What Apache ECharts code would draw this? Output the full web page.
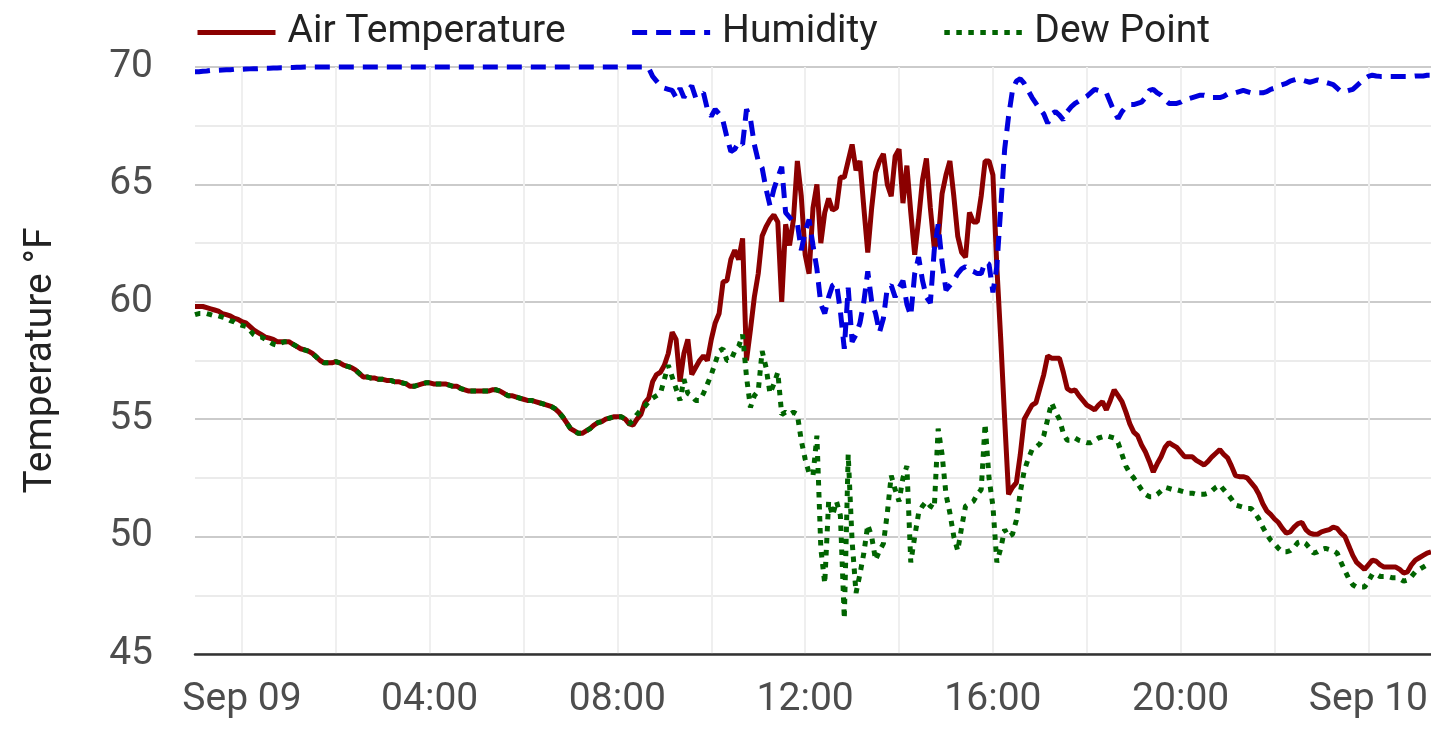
<!DOCTYPE html>
<html>
<head>
<meta charset="utf-8">
<title>Temperature</title>
<script src="https://cdn.jsdelivr.net/npm/echarts@6/dist/echarts.min.js"></script>
<style>
    html, body {margin: 0; padding: 0; background: #fff;}
    #chart {width: 1431px; height: 741px;}
</style>
</head>
<body>
<div id="chart"></div>
<script>
// readings every 5 minutes, Sep 08 23:00 -> Sep 10 01:20
const startTime = Date.UTC(2024, 8, 8, 23, 0);
const stepMinutes = 5;

const airTemperature = [
    59.8, 59.8, 59.8, 59.75, 59.7, 59.65, 59.6, 59.5, 59.45, 59.4, 59.3, 59.25,
    59.15, 59.1, 58.95, 58.8, 58.7, 58.6, 58.5, 58.45, 58.4, 58.3, 58.3, 58.3,
    58.3, 58.2, 58.1, 58.0, 57.95, 57.9, 57.8, 57.65, 57.5, 57.4, 57.4, 57.4,
    57.45, 57.4, 57.3, 57.25, 57.2, 57.1, 56.95, 56.8, 56.8, 56.75, 56.75, 56.7,
    56.7, 56.65, 56.65, 56.6, 56.6, 56.55, 56.5, 56.4, 56.4, 56.45, 56.5, 56.55,
    56.55, 56.5, 56.5, 56.5, 56.5, 56.45, 56.4, 56.4, 56.3, 56.25, 56.2, 56.2,
    56.2, 56.2, 56.2, 56.2, 56.25, 56.25, 56.2, 56.1, 56.0, 56.0, 55.95, 55.9,
    55.85, 55.8, 55.8, 55.75, 55.7, 55.65, 55.6, 55.55, 55.45, 55.3, 55.1, 54.85,
    54.6, 54.5, 54.4, 54.4, 54.5, 54.6, 54.75, 54.85, 54.9, 55.0, 55.05, 55.1,
    55.1, 55.1, 55.0, 54.8, 54.75, 55.0, 55.2, 55.7, 55.9, 56.6, 56.9, 57.0,
    57.3, 57.8, 58.7, 58.4, 56.6, 57.8, 58.4, 56.9, 57.2, 57.5, 57.7, 57.5,
    58.4, 59.1, 59.5, 60.85, 60.9, 61.8, 62.2, 61.8, 62.7, 57.5, 58.8, 60.2,
    61.2, 62.8, 63.2, 63.5, 63.7, 63.4, 60.0, 63.3, 62.4, 63.5, 66.0, 64.5,
    62.0, 61.2, 64.0, 65.0, 62.5, 63.8, 64.4, 63.9, 64.0, 65.3, 65.3, 66.0,
    66.7, 65.6, 66.0, 64.0, 62.1, 64.0, 65.5, 66.0, 66.3, 65.0, 64.5, 66.2,
    66.5, 64.2, 65.8, 63.8, 62.0, 63.5, 65.2, 66.1, 64.0, 62.3, 62.6, 64.6,
    65.4, 66.0, 64.5, 62.8, 62.1, 61.9, 63.8, 63.4, 63.4, 64.5, 66.0, 66.0,
    65.4, 61.5, 58.4, 55.0, 51.8, 52.1, 52.3, 53.5, 55.0, 55.3, 55.6, 55.7,
    56.3, 56.9, 57.7, 57.6, 57.6, 57.6, 57.0, 56.3, 56.2, 56.25, 56.0, 55.8,
    55.6, 55.5, 55.4, 55.6, 55.75, 55.4, 55.8, 56.25, 56.0, 55.75, 55.3, 54.8,
    54.45, 54.3, 53.9, 53.6, 53.2, 52.75, 53.1, 53.4, 53.8, 54.0, 53.9, 53.8,
    53.6, 53.4, 53.4, 53.4, 53.25, 53.15, 53.05, 53.2, 53.4, 53.55, 53.7, 53.5,
    53.35, 53.0, 52.6, 52.55, 52.55, 52.5, 52.3, 52.1, 51.8, 51.4, 51.1, 50.95,
    50.75, 50.6, 50.35, 50.15, 50.2, 50.4, 50.55, 50.6, 50.3, 50.15, 50.1, 50.1,
    50.2, 50.25, 50.3, 50.4, 50.35, 50.15, 50.0, 49.6, 49.2, 48.9, 48.75, 48.6,
    48.8, 49.0, 48.95, 48.8, 48.7, 48.7, 48.7, 48.7, 48.6, 48.45, 48.5, 48.8,
    49.0, 49.1, 49.2, 49.3, 49.35
];

const humidity = [
    69.8, 69.8, 69.82, 69.83, 69.85, 69.85, 69.86, 69.87, 69.88, 69.88, 69.9, 69.9,
    69.9, 69.91, 69.92, 69.93, 69.93, 69.94, 69.95, 69.95, 69.96, 69.96, 69.97, 69.97,
    69.98, 69.98, 69.99, 69.99, 70, 70, 70, 70, 70, 70, 70, 70,
    70, 70, 70, 70, 70, 70, 70, 70, 70, 70, 70, 70,
    70, 70, 70, 70, 70, 70, 70, 70, 70, 70, 70, 70,
    70, 70, 70, 70, 70, 70, 70, 70, 70, 70, 70, 70,
    70, 70, 70, 70, 70, 70, 70, 70, 70, 70, 70, 70,
    70, 70, 70, 70, 70, 70, 70, 70, 70, 70, 70, 70,
    70, 70, 70, 70, 70, 70, 70, 70, 70, 70, 70, 70,
    70, 70, 70, 70, 70, 70, 70, 70, 69.95, 69.6, 69.4, 69.2,
    69.1, 69.05, 69.0, 68.7, 69.1, 68.7, 69.0, 69.2, 68.7, 68.8, 68.9, 68.2,
    67.9, 68.2, 68.0, 67.7, 67.0, 66.4, 66.5, 66.8, 66.7, 68.2, 67.8, 66.7,
    66.0, 65.7, 64.8, 64.1, 64.8, 65.3, 65.75, 63.8, 63.6, 63.4, 63.35, 62.2,
    63.0, 63.5, 62.4, 61.4, 59.9, 59.5, 60.2, 60.7, 60.8, 59.6, 58.0, 60.6,
    58.3, 58.6, 59.1, 60.0, 61.3, 60.0, 59.5, 58.7, 59.3, 60.6, 60.7, 60.2,
    60.6, 60.9, 59.9, 59.4, 61.2, 61.9, 60.9, 60.2, 59.95, 62.2, 63.3, 61.7,
    60.5, 60.7, 60.9, 61.2, 61.4, 61.5, 61.35, 61.3, 61.2, 61.2, 61.7, 61.6,
    60.4, 61.5, 64.0, 66.5, 67.9, 69.0, 69.4, 69.5, 69.3, 69.0, 68.7, 68.45,
    68.2, 68.0, 67.6, 68.0, 68.1, 67.95, 67.75, 68.1, 68.3, 68.45, 68.55, 68.65,
    68.75, 68.9, 69.05, 69.0, 68.95, 68.9, 68.5, 68.1, 67.8, 68.1, 68.3, 68.4,
    68.4, 68.45, 68.5, 68.7, 69.0, 69.05, 68.9, 68.8, 68.6, 68.45, 68.45, 68.45,
    68.5, 68.6, 68.65, 68.7, 68.75, 68.8, 68.8, 68.75, 68.7, 68.7, 68.7, 68.75,
    68.85, 68.9, 68.9, 68.95, 69.0, 68.95, 68.9, 68.9, 68.9, 68.9, 68.95, 69.05,
    69.1, 69.2, 69.25, 69.3, 69.4, 69.45, 69.5, 69.45, 69.4, 69.35, 69.4, 69.45,
    69.4, 69.35, 69.3, 69.25, 69.1, 68.95, 68.95, 69.0, 69.05, 69.2, 69.35, 69.5,
    69.6, 69.65, 69.62, 69.6, 69.6, 69.6, 69.6, 69.6, 69.6, 69.6, 69.6, 69.6,
    69.62, 69.62, 69.62, 69.65, 69.65
];

const dewPoint = [
    59.45, 59.5, 59.5, 59.5, 59.45, 59.4, 59.4, 59.35, 59.3, 59.2, 59.15, 59.05,
    59.0, 58.95, 58.8, 58.6, 58.5, 58.5, 58.4, 58.3, 58.2, 58.15, 58.25, 58.3,
    58.3, 58.2, 58.1, 58.0, 57.95, 57.9, 57.8, 57.65, 57.5, 57.4, 57.4, 57.4,
    57.45, 57.4, 57.3, 57.25, 57.2, 57.1, 56.95, 56.8, 56.8, 56.75, 56.75, 56.7,
    56.7, 56.65, 56.65, 56.6, 56.6, 56.55, 56.5, 56.4, 56.4, 56.45, 56.5, 56.55,
    56.55, 56.5, 56.5, 56.5, 56.5, 56.45, 56.4, 56.4, 56.3, 56.25, 56.2, 56.2,
    56.2, 56.2, 56.2, 56.2, 56.25, 56.25, 56.2, 56.1, 56.0, 56.0, 55.95, 55.9,
    55.85, 55.8, 55.8, 55.75, 55.7, 55.65, 55.6, 55.55, 55.45, 55.3, 55.1, 54.85,
    54.6, 54.5, 54.4, 54.4, 54.5, 54.6, 54.75, 54.85, 54.9, 55.0, 55.05, 55.1,
    55.1, 55.1, 55.0, 54.8, 54.95, 55.2, 55.4, 55.55, 55.75, 55.9, 56.0, 56.1,
    56.7, 57.3, 56.8, 56.3, 55.8, 56.7, 56.1, 56.0, 55.8, 55.8, 56.1, 56.5,
    56.9, 57.4, 57.9, 58.0, 57.5, 57.5, 57.9, 58.1, 58.6, 56.8, 55.5, 56.0,
    56.2, 57.9, 57.2, 56.1, 56.5, 57.0, 55.2, 55.3, 55.2, 55.3, 55.2, 54.1,
    53.3, 52.7, 52.6, 54.3, 49.5, 48.0, 51.5, 50.9, 51.5, 50.9, 46.5, 53.5,
    49.8, 47.6, 48.4, 49.3, 50.5, 50.0, 49.0, 49.4, 49.7, 51.0, 52.6, 52.0,
    51.5, 52.5, 53.0, 48.9, 50.0, 51.0, 51.3, 51.5, 51.3, 51.2, 54.6, 53.5,
    51.8, 51.0, 50.0, 49.4, 50.4, 51.3, 51.4, 51.5, 51.8, 52.0, 54.8, 52.5,
    51.3, 48.9, 49.5, 50.3, 50.0, 50.1, 50.7, 51.9, 52.8, 53.3, 53.7, 53.8,
    53.95, 54.3, 55.0, 55.7, 55.3, 55.0, 54.4, 54.1, 54.1, 54.2, 54.1, 54.05,
    54.0, 54.0, 54.1, 54.2, 54.25, 54.3, 54.25, 54.2, 54.0, 53.5, 53.0, 52.7,
    52.5, 52.25, 52.0, 51.8, 51.7, 51.7, 51.8, 51.95, 52.1, 52.05, 52.0, 52.0,
    51.95, 51.9, 51.85, 51.85, 51.8, 51.8, 51.8, 51.85, 51.95, 52.1, 52.2, 52.0,
    51.8, 51.6, 51.35, 51.3, 51.25, 51.2, 51.2, 51.0, 50.75, 50.4, 50.1, 49.85,
    49.7, 49.5, 49.35, 49.35, 49.4, 49.55, 49.75, 49.8, 49.7, 49.5, 49.3, 49.35,
    49.45, 49.5, 49.45, 49.4, 49.3, 48.9, 48.55, 48.2, 47.95, 47.85, 47.85, 47.85,
    48.1, 48.4, 48.4, 48.3, 48.3, 48.3, 48.25, 48.25, 48.2, 48.1, 48.15, 48.3,
    48.5, 48.6, 48.7, 48.8, 48.85
];

const yTicks = [45, 50, 55, 60, 65, 70];
const monthNames = ['Jan', 'Feb', 'Mar', 'Apr', 'May', 'Jun', 'Jul', 'Aug', 'Sep', 'Oct', 'Nov', 'Dec'];

function pad(n) {
    return n < 10 ? '0' + n : '' + n;
}

// category labels, one per reading
let categories = [];
for (let i = 0; i < airTemperature.length; i++) {
    let d = new Date(startTime + i * stepMinutes * 60000);
    categories.push(monthNames[d.getUTCMonth()] + ' ' + pad(d.getUTCDate()) + ' ' +
        pad(d.getUTCHours()) + ':' + pad(d.getUTCMinutes()));
}

// index of first midnight, then a gridline every 2h and a label every 4h
const firstMidnight = 12;
const perHour = 60 / stepMinutes;

const textColor = '#4d4d4d';
const fontFamily = 'Roboto';
const fontSize = 39;

let chart = echarts.init(document.getElementById('chart'));

let option = {
    animation: false,
    backgroundColor: '#fff',
    textStyle: {fontFamily: fontFamily},
    legend: {
        left: 195,
        top: 13,
        padding: 0,
        itemWidth: 78,
        itemHeight: 40,
        itemGap: 64,
        lineStyle: {width: 5},
        itemStyle: {opacity: 0},   // no symbol on the key, only the line
        textStyle: {fontSize: fontSize, color: '#222', fontFamily: fontFamily, padding: [0, 0, 0, 7]},
        data: ['Air Temperature', 'Humidity', 'Dew Point']
    },
    grid: {
        left: 195,
        right: 0,
        top: 67,
        bottom: 87,
        containLabel: false,
        outerBoundsMode: 'none'
    },
    xAxis: {
        type: 'category',
        data: categories,
        boundaryGap: false,
        axisLine: {show: true, lineStyle: {color: '#333', width: 2.5}},
        axisTick: {show: false},
        axisLabel: {
            fontSize: fontSize,
            color: textColor,
            fontFamily: fontFamily,
            margin: 27,
            interval: function (index) {
                return (index - firstMidnight) % (4 * perHour) === 0;
            },
            formatter: function (value) {
                let time = value.slice(7);
                return time === '00:00' ? value.slice(0, 6) : time;
            }
        },
        splitLine: {
            show: true,
            interval: function (index) {
                return (index - firstMidnight) % (2 * perHour) === 0;
            },
            lineStyle: {color: '#efefef', width: 2}
        }
    },
    yAxis: {
        type: 'value',
        min: yTicks[0],
        max: yTicks[yTicks.length - 1],
        interval: 5,
        name: 'Temperature °F',
        nameLocation: 'middle',
        nameGap: 134,
        nameTextStyle: {fontSize: fontSize, color: '#222', fontFamily: fontFamily},
        axisLine: {show: false},
        axisTick: {show: false},
        axisLabel: {fontSize: fontSize, color: textColor, fontFamily: fontFamily, margin: 42},
        splitLine: {show: true, lineStyle: {color: '#cbcbcb', width: 2}},
        minorTick: {show: false, splitNumber: 2},
        minorSplitLine: {show: true, lineStyle: {color: '#ebebeb', width: 2}}
    },
    series: [
        {
            name: 'Air Temperature',
            type: 'line',
            data: airTemperature,
            symbol: 'none',
            clip: false,
            color: '#8b0000',
            lineStyle: {color: '#8b0000', width: 5}
        },
        {
            name: 'Humidity',
            type: 'line',
            data: humidity,
            symbol: 'none',
            clip: false,
            color: '#0000dd',
            lineStyle: {color: '#0000dd', width: 5, type: [15, 9]}
        },
        {
            name: 'Dew Point',
            type: 'line',
            data: dewPoint,
            symbol: 'none',
            clip: false,
            color: '#006400',
            lineStyle: {color: '#006400', width: 5, type: [5.5, 6.5]}
        }
    ]
};

chart.setOption(option);
</script>
</body>
</html>
